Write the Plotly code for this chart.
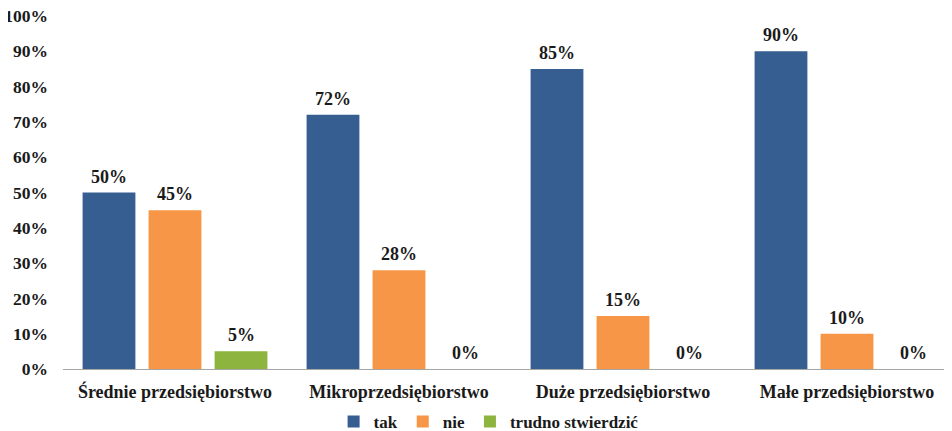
import plotly.graph_objects as go

categories = ["Średnie przedsiębiorstwo", "Mikroprzedsiębiorstwo", "Duże przedsiębiorstwo", "Małe przedsiębiorstwo"]
series_names = ["tak", "nie", "trudno stwierdzić"]
tak = [0.50, 0.72, 0.85, 0.90]
nie = [0.45, 0.28, 0.15, 0.10]
trudno = [0.05, 0.00, 0.00, 0.00]
y_ticks = [0, 0.1, 0.2, 0.3, 0.4, 0.5, 0.6, 0.7, 0.8, 0.9, 1.0]

series_values = [tak, nie, trudno]
colors = ["#375E91", "#F79646", "#8DB43F"]
FONT = "Liberation Serif, Times New Roman, serif"

fig = go.Figure()
for name, vals, col in zip(series_names, series_values, colors):
    fig.add_trace(go.Bar(name=name, x=categories, y=vals, marker=dict(color=col, line=dict(width=0))))

# data labels
slot_px = 66
annotations = []
for si, vals in enumerate(series_values):
    for ci, v in enumerate(vals):
        annotations.append(dict(
            x=categories[ci], y=v, xref="x", yref="y",
            text=f"{round(v*100)}%", showarrow=False,
            yanchor="bottom", yshift=4, xshift=(si - 1) * slot_px,
            font=dict(family=FONT, size=18, color="#1a1a1a", weight="bold"),
        ))

fig.update_layout(
    width=952, height=431,
    margin=dict(l=55, r=1, t=8, b=70, autoexpand=False),
    paper_bgcolor="white", plot_bgcolor="white",
    barmode="group", bargap=0.116, bargroupgap=0.2,
    font=dict(family=FONT, color="#1a1a1a"),
    showlegend=True,
    legend=dict(orientation="h", x=0.475, xanchor="center", y=-0.15, yanchor="middle",
                font=dict(family=FONT, size=17, weight="bold", color="#1a1a1a"),
                itemwidth=30, tracegroupgap=0),
    annotations=annotations,
)
fig.update_xaxes(
    range=[-0.5, 3.5], showline=True, linecolor="#A6A6A6", linewidth=1,
    ticks="", showgrid=False, automargin=False, ticklabelstandoff=6,
    tickfont=dict(family=FONT, size=18, weight="bold", color="#1a1a1a"),
)
fig.update_yaxes(
    range=[0, 1], tickvals=y_ticks, tickformat=".0%", showgrid=False,
    showline=False, zeroline=False, ticks="", automargin=False,
    ticklabelstandoff=14, ticklabeloverflow="allow",
    tickfont=dict(family=FONT, size=17.5, weight="bold", color="#1a1a1a"),
)

fig.write_html("out.html")
